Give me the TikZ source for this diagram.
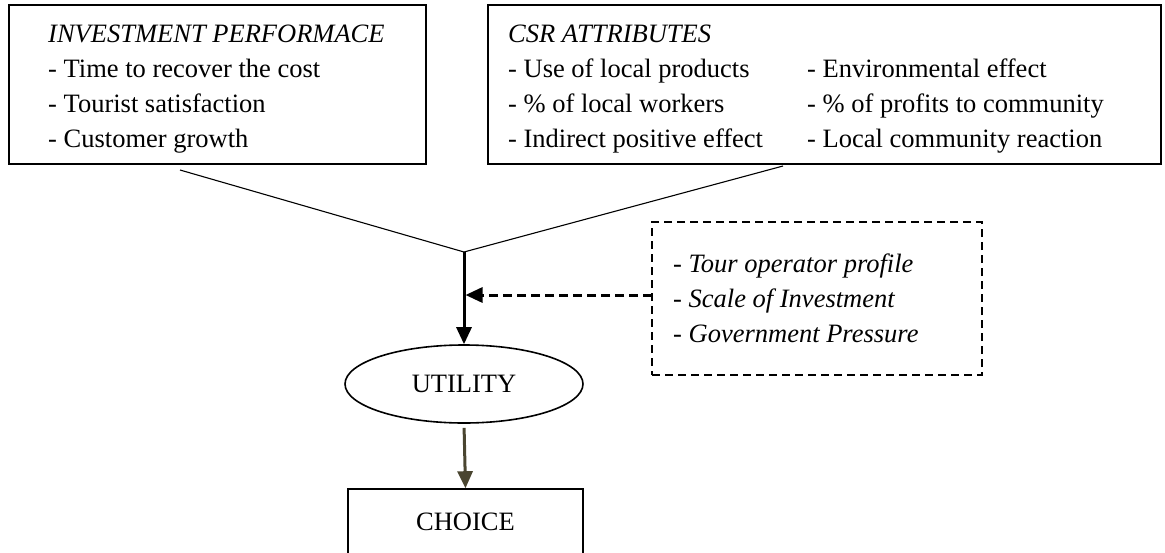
\documentclass[tikz,border=0pt]{standalone}
\usepackage{fontspec}
\setmainfont{Liberation Serif}
\usetikzlibrary{arrows.meta,shapes.geometric}
\definecolor{olivearrow}{HTML}{4A4530}
\tikzset{
  txt/.style={anchor=base west,inner sep=0pt,font=\fontsize{26.5}{35}\selectfont},
  itxt/.style={txt,font=\fontsize{26.5}{35}\selectfont\itshape},
  solidbox/.style={draw,line width=1.6pt},
  thinline/.style={line width=1.1pt},
  mainarrow/.style={line width=3pt,-{Triangle[length=17pt,width=15pt]}},
  dasharrow/.style={line width=3pt,dash pattern=on 9pt off 5pt,-{Triangle[length=17pt,width=15pt]}},
  dashbox/.style={draw,line width=2.6pt,dash pattern=on 8pt off 5pt},
}
\begin{document}
\begin{tikzpicture}[x=1pt,y=-1pt]
\useasboundingbox (0,0) rectangle (1165,552);
% boxes
\draw[solidbox] (9,5) rectangle (426,164);
\draw[solidbox] (488,5) rectangle (1161,164);
% box 1 text
\node[itxt] (t1) at (48,42) {INVESTMENT PERFORMACE};
\node[txt] (t2) at (48,77) {- Time to recover the cost};
\node[txt] (t3) at (48,112) {- Tourist satisfaction};
\node[txt] (t4) at (48,147) {- Customer growth};
% box 2 text
\node[itxt] (c0) at (508,42) {CSR ATTRIBUTES};
\node[txt] (c1) at (508,77) {- Use of local products};
\node[txt] (c2) at (508,112) {- \% of local workers};
\node[txt] (c3) at (508,147) {- Indirect positive effect};
\node[txt] (c4) at (807,77) {- Environmental effect};
\node[txt] (c5) at (807,112) {- \% of profits to community};
\node[txt] (c6) at (807,147) {- Local community reaction};
% dashed context box
\node[dashbox,minimum width=330pt,minimum height=153pt,inner sep=0pt] (ctx) at (817,298.5) {};
\node[itxt] (m1) at (673,272) {- Tour operator profile};
\node[itxt] (m2) at (673,307) {- Scale of Investment};
\node[itxt] (m3) at (673,342) {- Government Pressure};
% utility and choice
\node[draw,line width=1.6pt,ellipse,minimum width=238pt,minimum height=78pt,inner sep=0pt,font=\fontsize{26.5}{35}\selectfont] (util) at (464,384) {UTILITY};
\node[draw,line width=1.6pt,minimum width=235pt,minimum height=66pt,inner sep=0pt,font=\fontsize{26.5}{35}\selectfont] (choice) at (465.5,522) {CHOICE};
% connectors
\coordinate (L) at (180,170);
\coordinate (R) at (783,166);
\coordinate (J) at (464,252);
\coordinate (D) at (652,295);
\draw[thinline] (L) -- (J) -- (R);
\draw[mainarrow] (J) -- (util.north);
\draw[dasharrow] (D) -- ([xshift=1.5pt]J |- D);
\draw[mainarrow,color=olivearrow,shorten <=4pt] (util.south) -- (choice.north);
\end{tikzpicture}
\end{document}
